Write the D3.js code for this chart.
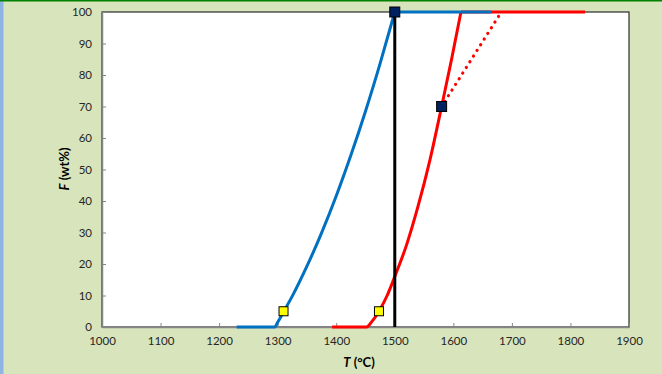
<!DOCTYPE html>
<html>
<head>
<meta charset="utf-8">
<script src="https://cdn.jsdelivr.net/npm/d3@7"></script>
<style>
  html, body { margin: 0; padding: 0; background: #D8E4BC; }
  svg { display: block; }
</style>
</head>
<body>
<svg id="chart" width="662" height="374"></svg>
<script>
// ---- data ----
const xTicks = [1000, 1100, 1200, 1300, 1400, 1500, 1600, 1700, 1800, 1900];
const yTicks = [0, 10, 20, 30, 40, 50, 60, 70, 80, 90, 100];

// blue: rising part, then plateau
const blueT = [1230, 1295, 1300, 1310, 1325, 1350, 1375, 1400, 1425, 1450, 1475, 1500];
const blueF = [0, 0, 1.5, 4.8, 9.8, 19.3, 29.9, 41.6, 54.5, 68.5, 83.7, 100];
const bluePlateauT = [1500, 1665];
const bluePlateauF = [100, 100];

// red: rising part, then plateau
const redT = [1393, 1452, 1460, 1473, 1487, 1500, 1520, 1540, 1560, 1580, 1597, 1613];
const redF = [0, 0, 1.5, 5, 10, 16, 26, 38.5, 53, 70, 85, 100];
const redPlateauT = [1613, 1825];
const redPlateauF = [100, 100];

const dotT = [1580, 1682];
const dotF = [70, 100];

const vlineT = [1500, 1500];
const vlineF = [0, 100];

const yellowT = [1310, 1473];
const yellowF = [5, 5];

const navyT = [1500, 1580];
const navyF = [100, 70];

// ---- layout ----
const svg = d3.select("#chart");
const W = 662, H = 374;
const L = 102, R = 629, T = 12, B = 327;

svg.append("rect").attr("x", 0).attr("y", 0).attr("width", W).attr("height", H).attr("fill", "#D8E4BC");
svg.append("rect").attr("x", 0).attr("y", 0).attr("width", 3.5).attr("height", H).attr("fill", "#8EB4E3");
svg.append("rect").attr("x", 0).attr("y", 0).attr("width", W).attr("height", 1.5).attr("fill", "#008000");

const x = d3.scaleLinear().domain([1000, 1900]).range([L, R]);
const y = d3.scaleLinear().domain([0, 100]).range([B, T]);

// plot area
svg.append("rect").attr("x", L).attr("y", T).attr("width", R - L).attr("height", B - T)
  .attr("fill", "#fff").attr("stroke", "#2b2b2b").attr("stroke-width", 1.2);

const font = "Lato, 'Liberation Sans', sans-serif";

// axes
const xAxis = d3.axisBottom(x).tickValues(xTicks).tickSizeInner(-4).tickSizeOuter(0).tickPadding(10).tickFormat(d3.format("d"));
const gx = svg.append("g").attr("transform", `translate(0,${B})`).call(xAxis);
gx.select(".domain").attr("stroke", "#868686").attr("stroke-width", 1.5);
gx.selectAll(".tick line").attr("stroke", "#868686");
gx.selectAll("text").attr("font-family", font).attr("font-size", 11.5).attr("fill", "#262626");

const yAxis = d3.axisLeft(y).tickValues(yTicks).tickSizeInner(-4).tickSizeOuter(0).tickPadding(10);
const gy = svg.append("g").attr("transform", `translate(${L},0)`).call(yAxis);
gy.select(".domain").attr("stroke", "#868686").attr("stroke-width", 1.5);
gy.selectAll(".tick line").attr("stroke", "#868686");
gy.selectAll("text").attr("font-family", font).attr("font-size", 11.5).attr("fill", "#262626");

// lines
const zip = (a, b) => a.map((v, i) => [v, b[i]]);
const line = d3.line().x(d => x(d[0])).y(d => y(d[1])).curve(d3.curveMonotoneX);
const straight = d3.line().x(d => x(d[0])).y(d => y(d[1]));

svg.append("path").datum(zip(dotT, dotF)).attr("d", straight)
  .attr("fill", "none").attr("stroke", "#FF0000").attr("stroke-width", 3.2)
  .attr("stroke-linecap", "round").attr("stroke-dasharray", "0.1,6.6").attr("stroke-dashoffset", -6);

svg.append("path").datum(zip(redPlateauT, redPlateauF)).attr("d", straight)
  .attr("fill", "none").attr("stroke", "#FF0000").attr("stroke-width", 3);
svg.append("path").datum(zip(redT, redF)).attr("d", line)
  .attr("fill", "none").attr("stroke", "#FF0000").attr("stroke-width", 3).attr("stroke-linejoin", "round");

svg.append("path").datum(zip(bluePlateauT, bluePlateauF)).attr("d", straight)
  .attr("fill", "none").attr("stroke", "#0070C0").attr("stroke-width", 3);
svg.append("path").datum(zip(blueT, blueF)).attr("d", line)
  .attr("fill", "none").attr("stroke", "#0070C0").attr("stroke-width", 3).attr("stroke-linejoin", "round");

svg.append("path").datum(zip(vlineT, vlineF)).attr("d", straight)
  .attr("fill", "none").attr("stroke", "#000").attr("stroke-width", 3);

// markers
const sq = 9;
svg.selectAll("rect.yellow").data(zip(yellowT, yellowF)).enter().append("rect")
  .attr("class", "yellow")
  .attr("x", d => x(d[0]) - sq / 2).attr("y", d => y(d[1]) - sq / 2)
  .attr("width", sq).attr("height", sq)
  .attr("fill", "#FFFF00").attr("stroke", "#000").attr("stroke-width", 1);

const sq2 = 10;
svg.selectAll("rect.navy").data(zip(navyT, navyF)).enter().append("rect")
  .attr("class", "navy")
  .attr("x", d => x(d[0]) - sq2 / 2).attr("y", d => y(d[1]) - sq2 / 2)
  .attr("width", sq2).attr("height", sq2)
  .attr("fill", "#002060").attr("stroke", "#000").attr("stroke-width", 1);

// axis titles
const xt = svg.append("text").attr("x", 359).attr("y", 367).attr("text-anchor", "middle")
  .attr("font-family", font).attr("font-size", 13).attr("font-weight", "bold").attr("fill", "#000");
xt.append("tspan").attr("font-style", "italic").text("T");
xt.append("tspan").text(" (°C)");

const yt = svg.append("text").attr("transform", `translate(69,169) rotate(-90)`).attr("text-anchor", "middle")
  .attr("font-family", font).attr("font-size", 13).attr("font-weight", "bold").attr("fill", "#000");
yt.append("tspan").attr("font-style", "italic").text("F");
yt.append("tspan").text(" (wt%)");
</script>
</body>
</html>
